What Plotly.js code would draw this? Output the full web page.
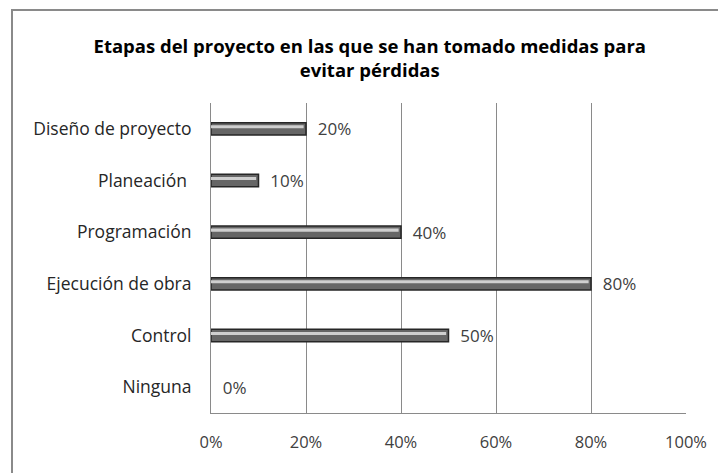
<!DOCTYPE html>
<html><head><meta charset="utf-8">
<script src="https://cdn.plot.ly/plotly-3.0.1.min.js"></script>
<style>
html,body{margin:0;padding:0;background:#fff;overflow:hidden;}
#frame{position:absolute;left:11px;top:9px;width:760px;height:520px;border:2px solid #8a8a8a;box-sizing:border-box;pointer-events:none;z-index:5;}
#chart{width:718px;height:473px;}
</style></head>
<body>
<div id="frame"></div>
<div id="chart"></div>
<script>
const categories = ["Diseño de proyecto", "Planeación ", "Programación", "Ejecución de obra", "Control", "Ninguna"];
const values = [20, 10, 40, 80, 50, 0];
const tickVals = [0, 20, 40, 60, 80, 100];
const tickText = ["0%", "20%", "40%", "60%", "80%", "100%"];
const titleText = "Etapas del proyecto en las que se han tomado medidas para<br>evitar pérdidas";

const font = "Open Sans, Noto Sans, sans-serif";

const base = {
  type: "bar", orientation: "h",
  x: values, y: categories,
  width: 0.24,
  marker: {color: "#666666", line: {color: "#262626", width: values.map(v => v > 0 ? 1.5 : 0)}},
  text: values.map(v => "\u00a0\u00a0" + v + "%"),
  textposition: "outside",
  constraintext: "none",
  cliponaxis: false,
  textfont: {family: font, size: 17, color: "#404040"},
  hoverinfo: "skip"
};
const shine = {
  type: "bar", orientation: "h",
  x: values.map(v => v > 0 ? v - 0.5 : 0), y: categories,
  width: 0.06, offset: -0.07,
  marker: {color: "#cfcfcf", line: {width: 0}},
  hoverinfo: "skip"
};

const layout = {
  width: 718, height: 473,
  margin: {l: 211, r: 32, t: 103, b: 60},
  paper_bgcolor: "#fff", plot_bgcolor: "#fff",
  barmode: "overlay",
  showlegend: false,
  title: {text: titleText, x: 0.515, xanchor: "center", y: 0.889, yanchor: "middle",
          font: {family: font, size: 18.5, color: "#000", weight: "bold"}},
  xaxis: {range: [0, 100], tickvals: tickVals, ticktext: tickText,
          showgrid: true, gridcolor: "#8a8a8a", gridwidth: 1,
          zeroline: false, showline: true, linecolor: "#8a8a8a", mirror: false,
          ticks: "", ticklabelstandoff: 14,
          tickfont: {family: font, size: 16.5, color: "#404040"}, fixedrange: true},
  yaxis: {autorange: "reversed", showline: true, linecolor: "#8a8a8a", showgrid: false,
          ticks: "", ticklabelstandoff: 15,
          tickfont: {family: font, size: 17.5, color: "#262626"}, fixedrange: true},
};

Plotly.newPlot("chart", [base, shine], layout, {displayModeBar: false, staticPlot: true});
</script>
</body></html>
